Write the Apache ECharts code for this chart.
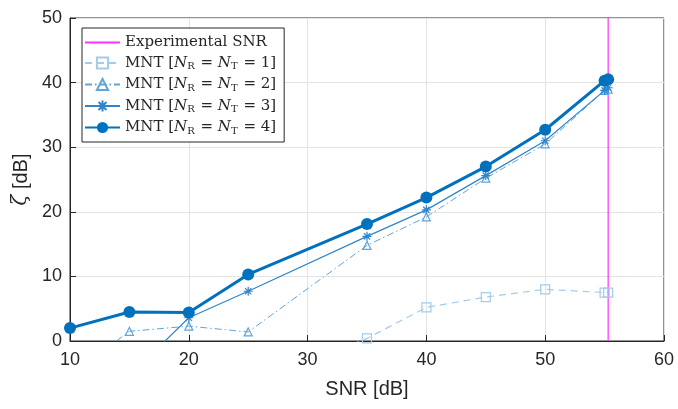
<!DOCTYPE html>
<html>
<head>
<meta charset="utf-8">
<script src="https://cdn.jsdelivr.net/npm/echarts@6/dist/echarts.min.js"></script>
<style>
  html, body { margin: 0; padding: 0; background: #fff; }
  #chart { width: 678px; height: 409px; }
</style>
</head>
<body>
<div id="chart"></div>
<script>
// SNR values (dB) and zeta (dB)
const snrN1 = [30, 35, 40, 45, 50, 55, 55.3]
const zetaN1 = [-3, 0.4, 5.2, 6.8, 8.0, 7.5, 7.5]

const snrN2 = [10, 15, 20, 25, 35, 40, 45, 50, 55, 55.3]
const zetaN2 = [-5.3, 1.5, 2.3, 1.4, 14.8, 19.2, 25.2, 30.5, 38.8, 39.0]

const snrN3 = [15, 20, 25, 35, 40, 45, 50, 55, 55.3]
const zetaN3 = [-5.4, 3.6, 7.7, 16.2, 20.3, 25.6, 31.0, 38.8, 39.2]

const snrN4 = [10, 15, 20, 25, 35, 40, 45, 50, 55, 55.3]
const zetaN4 = [2.0, 4.5, 4.4, 10.3, 18.1, 22.2, 27.0, 32.7, 40.3, 40.5]

const experimentalSNR = 55.3
const yRange = [0, 50]

const pairs = (xs, ys) => xs.map((x, i) => [x, ys[i]])

const asterisk = 'path://M0,-10L0,10M-10,0L10,0M-7,-7L7,7M-7,7L7,-7'

const mntName = n => 'MNT [N_R = N_T = ' + n + ']'

const chart = echarts.init(document.getElementById('chart'))

chart.setOption({
  backgroundColor: '#fff',
  animation: false,
  grid: {
    left: 70,
    right: 14,
    top: 18,
    bottom: 68,
    show: true,
    borderColor: '#262626',
    borderWidth: 1
  },
  legend: {
    orient: 'vertical',
    left: 82,
    top: 28,
    backgroundColor: '#fff',
    borderColor: '#262626',
    borderWidth: 1,
    padding: [7, 8, 6, 2],
    itemWidth: 35,
    itemHeight: 14,
    itemGap: 5.5,
    data: [
      { name: 'Experimental SNR', itemStyle: { opacity: 0 } },
      mntName(1), mntName(2), mntName(3), mntName(4)
    ],
    formatter: name => {
      if (name === 'Experimental SNR') return name
      const n = name.slice(-2, -1)
      return 'MNT [{i|N}{s|R} = {i|N}{s|T} = ' + n + ']'
    },
    textStyle: {
      fontFamily: 'DejaVu Serif',
      fontSize: 15,
      color: '#262626',
      rich: {
        i: { fontFamily: 'DejaVu Serif', fontStyle: 'italic', fontSize: 15, color: '#262626' },
        s: { fontFamily: 'DejaVu Serif', fontSize: 10, color: '#262626', padding: [7, 1, 0, 0] }
      }
    }
  },
  xAxis: {
    type: 'value',
    min: 10,
    max: 60,
    interval: 10,
    name: 'SNR [dB]',
    nameLocation: 'middle',
    nameGap: 38,
    nameTextStyle: { fontFamily: 'Liberation Sans', fontSize: 20, color: '#262626' },
    axisLine: { lineStyle: { color: '#262626' } },
    axisTick: { inside: true, length: 6, lineStyle: { color: '#262626' } },
    axisLabel: { fontFamily: 'Liberation Sans', fontSize: 18, color: '#262626', margin: 10 },
    splitLine: { lineStyle: { color: '#e3e3e3' } }
  },
  yAxis: {
    type: 'value',
    min: yRange[0],
    max: yRange[1],
    interval: 10,
    name: '{z|ζ} [dB]',
    nameLocation: 'middle',
    nameGap: 30,
    nameRotate: 90,
    nameTextStyle: {
      fontFamily: 'Liberation Sans',
      fontSize: 20,
      color: '#262626',
      rich: {
        z: { fontFamily: 'DejaVu Serif', fontStyle: 'italic', fontSize: 20, color: '#262626' }
      }
    },
    axisLine: { show: true, lineStyle: { color: '#262626' } },
    axisTick: { show: true, inside: true, length: 6, lineStyle: { color: '#262626' } },
    axisLabel: { fontFamily: 'Liberation Sans', fontSize: 18, color: '#262626', margin: 8 },
    splitLine: { lineStyle: { color: '#e3e3e3' } }
  },
  series: [
    {
      name: 'Experimental SNR',
      type: 'line',
      data: [[experimentalSNR, yRange[0]], [experimentalSNR, yRange[1]]],
      showSymbol: false,
      symbol: 'none',
      lineStyle: { color: '#ff33ff', width: 1.2 },
      itemStyle: { color: '#ff33ff' },
      z: 1
    },
    {
      name: mntName(1),
      type: 'line',
      data: pairs(snrN1, zetaN1),
      symbol: 'rect',
      symbolSize: 9,
      lineStyle: { color: '#a3cbeb', width: 1.2, type: [7, 5] },
      itemStyle: { color: 'transparent', borderColor: '#a3cbeb', borderWidth: 1.2 },
      z: 2
    },
    {
      name: mntName(2),
      type: 'line',
      data: pairs(snrN2, zetaN2),
      symbol: 'triangle',
      symbolSize: 8,
      lineStyle: { color: '#5ea5da', width: 1, type: [7, 3, 1.5, 3] },
      itemStyle: { color: 'transparent', borderColor: '#5ea5da', borderWidth: 1.2 },
      z: 3
    },
    {
      name: mntName(3),
      type: 'line',
      data: pairs(snrN3, zetaN3),
      symbol: asterisk,
      symbolSize: 9,
      lineStyle: { color: '#2f86cc', width: 1.2 },
      itemStyle: { color: 'transparent', borderColor: '#2f86cc', borderWidth: 1.2 },
      z: 4
    },
    {
      name: mntName(4),
      type: 'line',
      data: pairs(snrN4, zetaN4),
      symbol: 'circle',
      symbolSize: 12,
      lineStyle: { color: '#0072bd', width: 3 },
      itemStyle: { color: '#0072bd' },
      z: 5
    }
  ]
})
</script>
</body>
</html>
